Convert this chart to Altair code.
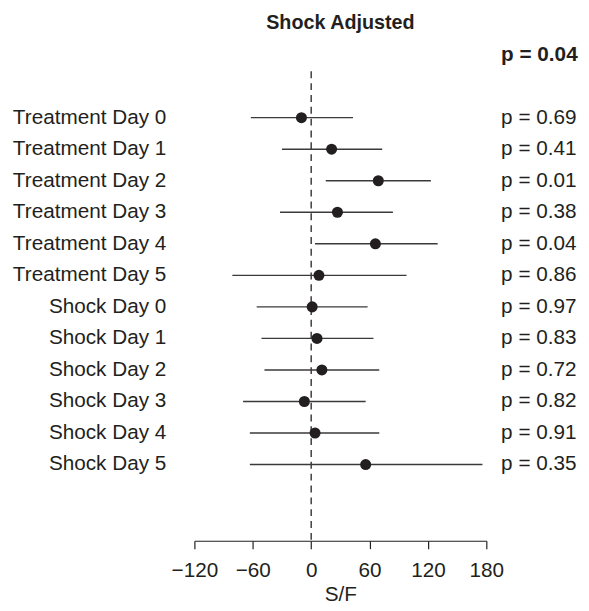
import altair as alt
import pandas as pd

labels = ["Treatment Day 0", "Treatment Day 1", "Treatment Day 2", "Treatment Day 3",
          "Treatment Day 4", "Treatment Day 5", "Shock Day 0", "Shock Day 1",
          "Shock Day 2", "Shock Day 3", "Shock Day 4", "Shock Day 5"]
estimate = [-10, 21, 69, 27, 66, 8, 1, 6, 11, -7, 4, 56]
lower = [-62, -30, 15, -32, 4, -81, -56, -51, -48, -70, -63, -63]
upper = [43, 73, 123, 84, 130, 98, 58, 64, 70, 56, 70, 176]
pvals = ["p = 0.69", "p = 0.41", "p = 0.01", "p = 0.38", "p = 0.04", "p = 0.86",
         "p = 0.97", "p = 0.83", "p = 0.72", "p = 0.82", "p = 0.91", "p = 0.35"]
overall_p = "p = 0.04"
x_ticks = [-120, -60, 0, 60, 120, 180]

FONT = "Liberation Sans, Arial, Helvetica, sans-serif"
INK = "#231f20"

df = pd.DataFrame({"label": labels, "est": estimate, "lo": lower, "hi": upper, "p": pvals})

xscale = alt.Scale(domain=[-120, 180], nice=False, zero=False)
yscale = alt.Scale(domain=labels, range=[31, 414.7])

base = alt.Chart(df)

ref = alt.Chart(pd.DataFrame({"v": [0]})).mark_rule(
    color=INK, strokeWidth=1.3, strokeDash=[7, 5]
).encode(x=alt.X("v:Q", scale=xscale))

bars = base.mark_rule(color="#3a3a3a", strokeWidth=1.4).encode(
    x=alt.X("lo:Q", scale=xscale,
            axis=alt.Axis(values=x_ticks, title="S/F", grid=False, domainColor=INK,
                          tickColor=INK, tickSize=8, domainWidth=1.2, tickWidth=1.2,
                          labelFontSize=21, labelColor=INK, labelPadding=11,
                          labelOverlap=False, labelFlush=False,
                          labelFont=FONT, titleFont=FONT, titleFontSize=21,
                          titleFontWeight="normal", titleColor=INK, titlePadding=4)),
    x2="hi:Q",
    y=alt.Y("label:N", scale=yscale, sort=labels,
            axis=alt.Axis(title=None, domain=False, ticks=False, grid=False,
                          labelFontSize=21, labelColor=INK, labelFont=FONT,
                          labelPadding=29, labelLimit=400)),
)

dots = base.mark_point(filled=True, shape="circle", size=125, color=INK, opacity=1).encode(
    x=alt.X("est:Q", scale=xscale),
    y=alt.Y("label:N", scale=yscale, sort=labels),
)

ptext = base.mark_text(align="left", baseline="middle", fontSize=21, font=FONT, color=INK).encode(
    x=alt.value(311),
    y=alt.Y("label:N", scale=yscale, sort=labels),
    text="p:N",
)

otext = alt.Chart(pd.DataFrame({"t": [overall_p]})).mark_text(
    align="left", baseline="alphabetic", fontSize=21, font=FONT, fontWeight="bold", color=INK
).encode(x=alt.value(311), y=alt.value(-10), text="t:N")

chart = alt.layer(ref, bars, dots, ptext, otext).properties(
    width=296, height=476,
    title=alt.TitleParams("Shock Adjusted", frame="group", anchor="middle",
                          font=FONT, fontSize=20, fontWeight="bold", color=INK,
                          baseline="alphabetic", offset=-4),
    autosize=alt.AutoSizeParams(type="none"),
    padding={"left": 189, "top": 60, "right": 96, "bottom": 67},
).configure_view(stroke=None)

chart.save("out.html", embed_options={"renderer": "svg", "actions": False})
